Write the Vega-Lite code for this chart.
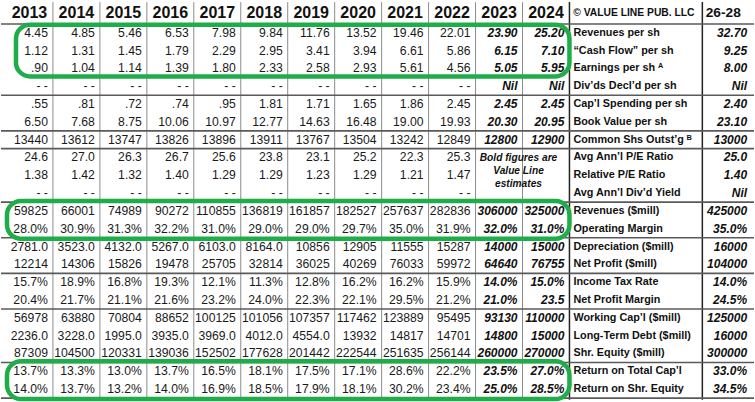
{
  "$schema": "https://vega.github.io/schema/vega-lite/v6.json",
  "width": 755,
  "height": 402,
  "padding": 0,
  "autosize": {"type": "fit", "contains": "padding"},
  "background": "white",
  "config": {"view": {"stroke": null}},
  "datasets": {
    "cols": [
      {"col": "2013", "left": 0, "right": 1, "title": "2013"},
      {"col": "2014", "left": 1, "right": 2, "title": "2014"},
      {"col": "2015", "left": 2, "right": 3, "title": "2015"},
      {"col": "2016", "left": 3, "right": 4, "title": "2016"},
      {"col": "2017", "left": 4, "right": 5, "title": "2017"},
      {"col": "2018", "left": 5, "right": 6, "title": "2018"},
      {"col": "2019", "left": 6, "right": 7, "title": "2019"},
      {"col": "2020", "left": 7, "right": 8, "title": "2020"},
      {"col": "2021", "left": 8, "right": 9, "title": "2021"},
      {"col": "2022", "left": 9, "right": 10, "title": "2022"},
      {"col": "2023", "left": 10, "right": 11, "title": "2023"},
      {"col": "2024", "left": 11, "right": 12, "title": "2024"},
      {"col": "label", "left": 12, "right": 14.83, "title": "© VALUE LINE PUB. LLC"},
      {"col": "proj", "left": 14.83, "right": 15.89, "title": "26-28"}
    ],
    "seps": [{"after": 0}, {"after": 4}, {"after": 6}, {"after": 7}, {"after": 10}, {"after": 12}, {"after": 14}, {"after": 16}, {"after": 19}, {"after": 21}],
    "hl": [
      {"first": 1, "last": 3, "from": 0, "to": 12},
      {"first": 11, "last": 12, "from": 0, "to": 12},
      {"first": 20, "last": 21, "from": 0, "to": 12}
    ],
    "note": [{"note": "Bold figures are\nValue Line\nestimates", "row": 9, "at": 11}],
    "table": [
      {"row": 1, "label": "Revenues per sh", "2013": "4.45", "2014": "4.85", "2015": "5.46", "2016": "6.53", "2017": "7.98", "2018": "9.84", "2019": "11.76", "2020": "13.52", "2021": "19.46", "2022": "22.01", "2023": "23.90", "2024": "25.20", "proj": "32.70"},
      {"row": 2, "label": "“Cash Flow” per sh", "2013": "1.12", "2014": "1.31", "2015": "1.45", "2016": "1.79", "2017": "2.29", "2018": "2.95", "2019": "3.41", "2020": "3.94", "2021": "6.61", "2022": "5.86", "2023": "6.15", "2024": "7.10", "proj": "9.25"},
      {"row": 3, "label": "Earnings per sh  ᴬ", "2013": ".90", "2014": "1.04", "2015": "1.14", "2016": "1.39", "2017": "1.80", "2018": "2.33", "2019": "2.58", "2020": "2.93", "2021": "5.61", "2022": "4.56", "2023": "5.05", "2024": "5.95", "proj": "8.00"},
      {"row": 4, "label": "Div’ds Decl’d per sh", "2013": "- -", "2014": "- -", "2015": "- -", "2016": "- -", "2017": "- -", "2018": "- -", "2019": "- -", "2020": "- -", "2021": "- -", "2022": "- -", "2023": "Nil", "2024": "Nil", "proj": "Nil"},
      {"row": 5, "label": "Cap’l Spending per sh", "2013": ".55", "2014": ".81", "2015": ".72", "2016": ".74", "2017": ".95", "2018": "1.81", "2019": "1.71", "2020": "1.65", "2021": "1.86", "2022": "2.45", "2023": "2.45", "2024": "2.45", "proj": "2.40"},
      {"row": 6, "label": "Book Value per sh", "2013": "6.50", "2014": "7.68", "2015": "8.75", "2016": "10.06", "2017": "10.97", "2018": "12.77", "2019": "14.63", "2020": "16.48", "2021": "19.00", "2022": "19.93", "2023": "20.30", "2024": "20.95", "proj": "23.10"},
      {"row": 7, "label": "Common Shs Outst’g  ᴮ", "2013": "13440", "2014": "13612", "2015": "13747", "2016": "13826", "2017": "13896", "2018": "13911", "2019": "13767", "2020": "13504", "2021": "13242", "2022": "12849", "2023": "12800", "2024": "12900", "proj": "13000"},
      {"row": 8, "label": "Avg Ann’l P/E Ratio", "2013": "24.6", "2014": "27.0", "2015": "26.3", "2016": "26.7", "2017": "25.6", "2018": "23.8", "2019": "23.1", "2020": "25.2", "2021": "22.3", "2022": "25.3", "proj": "25.0"},
      {"row": 9, "label": "Relative P/E Ratio", "2013": "1.38", "2014": "1.42", "2015": "1.32", "2016": "1.40", "2017": "1.29", "2018": "1.29", "2019": "1.23", "2020": "1.29", "2021": "1.21", "2022": "1.47", "proj": "1.40"},
      {"row": 10, "label": "Avg Ann’l Div’d Yield", "2013": "- -", "2014": "- -", "2015": "- -", "2016": "- -", "2017": "- -", "2018": "- -", "2019": "- -", "2020": "- -", "2021": "- -", "2022": "- -", "proj": "Nil"},
      {"row": 11, "label": "Revenues ($mill)", "2013": "59825", "2014": "66001", "2015": "74989", "2016": "90272", "2017": "110855", "2018": "136819", "2019": "161857", "2020": "182527", "2021": "257637", "2022": "282836", "2023": "306000", "2024": "325000", "proj": "425000"},
      {"row": 12, "label": "Operating Margin", "2013": "28.0%", "2014": "30.9%", "2015": "31.3%", "2016": "32.2%", "2017": "31.0%", "2018": "29.0%", "2019": "29.0%", "2020": "29.7%", "2021": "35.0%", "2022": "31.9%", "2023": "32.0%", "2024": "31.0%", "proj": "35.0%"},
      {"row": 13, "label": "Depreciation ($mill)", "2013": "2781.0", "2014": "3523.0", "2015": "4132.0", "2016": "5267.0", "2017": "6103.0", "2018": "8164.0", "2019": "10856", "2020": "12905", "2021": "11555", "2022": "15287", "2023": "14000", "2024": "15000", "proj": "16000"},
      {"row": 14, "label": "Net Profit ($mill)", "2013": "12214", "2014": "14306", "2015": "15826", "2016": "19478", "2017": "25705", "2018": "32814", "2019": "36025", "2020": "40269", "2021": "76033", "2022": "59972", "2023": "64640", "2024": "76755", "proj": "104000"},
      {"row": 15, "label": "Income Tax Rate", "2013": "15.7%", "2014": "18.9%", "2015": "16.8%", "2016": "19.3%", "2017": "12.1%", "2018": "11.3%", "2019": "12.8%", "2020": "16.2%", "2021": "16.2%", "2022": "15.9%", "2023": "14.0%", "2024": "15.0%", "proj": "14.0%"},
      {"row": 16, "label": "Net Profit Margin", "2013": "20.4%", "2014": "21.7%", "2015": "21.1%", "2016": "21.6%", "2017": "23.2%", "2018": "24.0%", "2019": "22.3%", "2020": "22.1%", "2021": "29.5%", "2022": "21.2%", "2023": "21.0%", "2024": "23.5", "proj": "24.5%"},
      {"row": 17, "label": "Working Cap’l ($mill)", "2013": "56978", "2014": "63880", "2015": "70804", "2016": "88652", "2017": "100125", "2018": "101056", "2019": "107357", "2020": "117462", "2021": "123889", "2022": "95495", "2023": "93130", "2024": "110000", "proj": "125000"},
      {"row": 18, "label": "Long-Term Debt ($mill)", "2013": "2236.0", "2014": "3228.0", "2015": "1995.0", "2016": "3935.0", "2017": "3969.0", "2018": "4012.0", "2019": "4554.0", "2020": "13932", "2021": "14817", "2022": "14701", "2023": "14800", "2024": "15000", "proj": "16000"},
      {"row": 19, "label": "Shr. Equity ($mill)", "2013": "87309", "2014": "104500", "2015": "120331", "2016": "139036", "2017": "152502", "2018": "177628", "2019": "201442", "2020": "222544", "2021": "251635", "2022": "256144", "2023": "260000", "2024": "270000", "proj": "300000"},
      {"row": 20, "label": "Return on Total Cap’l", "2013": "13.7%", "2014": "13.3%", "2015": "13.0%", "2016": "13.7%", "2017": "16.5%", "2018": "18.1%", "2019": "17.5%", "2020": "17.1%", "2021": "28.6%", "2022": "22.2%", "2023": "23.5%", "2024": "27.0%", "proj": "33.0%"},
      {"row": 21, "label": "Return on Shr. Equity", "2013": "14.0%", "2014": "13.7%", "2015": "13.2%", "2016": "14.0%", "2017": "16.9%", "2018": "18.5%", "2019": "17.9%", "2020": "18.1%", "2021": "30.2%", "2022": "23.4%", "2023": "25.0%", "2024": "28.5%", "proj": "34.5%"}
    ]
  },
  "layer": [
    {
      "data": {"name": "cols"},
      "transform": [{"filter": "datum.left > 0 && datum.left < 12"}],
      "mark": {"type": "rule", "color": "#8c8c8c", "strokeWidth": 1},
      "encoding": {
        "x": {"field": "left", "type": "quantitative", "scale": {"type": "linear", "domain": [-0.106, 15.93], "nice": false, "zero": false}, "axis": null},
        "y": {"datum": -0.72, "type": "quantitative", "scale": {"type": "linear", "domain": [-0.838, 21.557], "reverse": true, "nice": false, "zero": false}, "axis": null},
        "y2": {"datum": 21.6}
      }
    },
    {
      "data": {"name": "cols"},
      "transform": [{"filter": "datum.left >= 12"}],
      "mark": {"type": "rule", "color": "#222222", "strokeWidth": 1.5},
      "encoding": {
        "x": {"field": "left", "type": "quantitative", "scale": {"type": "linear", "domain": [-0.106, 15.93], "nice": false, "zero": false}, "axis": null},
        "y": {"datum": -0.72, "type": "quantitative", "scale": {"type": "linear", "domain": [-0.838, 21.557], "reverse": true, "nice": false, "zero": false}, "axis": null},
        "y2": {"datum": 21.6}
      }
    },
    {
      "data": {"name": "seps"},
      "mark": {"type": "rule", "color": "#5a5a5a", "strokeWidth": 1.6, "yOffset": 9},
      "encoding": {
        "y": {"field": "after", "type": "quantitative", "scale": {"type": "linear", "domain": [-0.838, 21.557], "reverse": true, "nice": false, "zero": false}, "axis": null},
        "x": {"datum": -0.106, "type": "quantitative", "scale": {"type": "linear", "domain": [-0.106, 15.93], "nice": false, "zero": false}, "axis": null},
        "x2": {"datum": 15.93}
      }
    },
    {
      "mark": {"type": "rule", "color": "#111111", "strokeWidth": 1},
      "encoding": {
        "y": {"datum": -0.72, "type": "quantitative", "scale": {"type": "linear", "domain": [-0.838, 21.557], "reverse": true, "nice": false, "zero": false}, "axis": null},
        "x": {"datum": -0.106, "type": "quantitative", "scale": {"type": "linear", "domain": [-0.106, 15.93], "nice": false, "zero": false}, "axis": null},
        "x2": {"datum": 15.93}
      }
    },
    {
      "mark": {"type": "rule", "color": "#111111", "strokeWidth": 3.5, "strokeDash": [2, 1.5]},
      "encoding": {
        "y": {"datum": -0.74, "type": "quantitative", "scale": {"type": "linear", "domain": [-0.838, 21.557], "reverse": true, "nice": false, "zero": false}, "axis": null},
        "x": {"datum": 0, "type": "quantitative", "scale": {"type": "linear", "domain": [-0.106, 15.93], "nice": false, "zero": false}, "axis": null},
        "x2": {"datum": 10.45}
      }
    },
    {
      "mark": {"type": "rule", "color": "#111111", "strokeWidth": 5},
      "encoding": {
        "y": {"datum": -0.76, "type": "quantitative", "scale": {"type": "linear", "domain": [-0.838, 21.557], "reverse": true, "nice": false, "zero": false}, "axis": null},
        "x": {"datum": 15.0, "type": "quantitative", "scale": {"type": "linear", "domain": [-0.106, 15.93], "nice": false, "zero": false}, "axis": null},
        "x2": {"datum": 15.93}
      }
    },
    {
      "mark": {"type": "rule", "color": "#111111", "strokeWidth": 3},
      "encoding": {
        "x": {"datum": 15.9, "type": "quantitative", "scale": {"type": "linear", "domain": [-0.106, 15.93], "nice": false, "zero": false}, "axis": null},
        "y": {"datum": -0.76, "type": "quantitative", "scale": {"type": "linear", "domain": [-0.838, 21.557], "reverse": true, "nice": false, "zero": false}, "axis": null},
        "y2": {"datum": 21.6}
      }
    },
    {
      "mark": {"type": "rule", "color": "#111111", "strokeWidth": 4},
      "encoding": {
        "x": {"datum": -0.06, "type": "quantitative", "scale": {"type": "linear", "domain": [-0.106, 15.93], "nice": false, "zero": false}, "axis": null},
        "y": {"datum": 3.5, "type": "quantitative", "scale": {"type": "linear", "domain": [-0.838, 21.557], "reverse": true, "nice": false, "zero": false}, "axis": null},
        "y2": {"datum": 21.6}
      }
    },
    {
      "data": {"name": "cols"},
      "transform": [{"filter": "datum.left < 12"}, {"calculate": "(datum.left + datum.right) / 2", "as": "mid"}],
      "mark": {"type": "text", "align": "center", "baseline": "middle", "dy": -2, "font": "Liberation Sans", "fontWeight": "bold", "fontSize": 16, "color": "#111111"},
      "encoding": {
        "x": {"field": "mid", "type": "quantitative", "scale": {"type": "linear", "domain": [-0.106, 15.93], "nice": false, "zero": false}, "axis": null},
        "y": {"datum": 0, "type": "quantitative", "scale": {"type": "linear", "domain": [-0.838, 21.557], "reverse": true, "nice": false, "zero": false}, "axis": null},
        "text": {"field": "title", "type": "nominal"}
      }
    },
    {
      "data": {"name": "cols"},
      "transform": [{"filter": "datum.col === 'label'"}, {"calculate": "(datum.left + datum.right) / 2", "as": "mid"}],
      "mark": {"type": "text", "align": "center", "baseline": "middle", "dy": -2, "dx": -2, "font": "Liberation Sans", "fontWeight": "bold", "fontSize": 10.3, "color": "#111111"},
      "encoding": {
        "x": {"field": "mid", "type": "quantitative", "scale": {"type": "linear", "domain": [-0.106, 15.93], "nice": false, "zero": false}, "axis": null},
        "y": {"datum": 0, "type": "quantitative", "scale": {"type": "linear", "domain": [-0.838, 21.557], "reverse": true, "nice": false, "zero": false}, "axis": null},
        "text": {"field": "title", "type": "nominal"}
      }
    },
    {
      "data": {"name": "cols"},
      "transform": [{"filter": "datum.col === 'proj'"}, {"calculate": "(datum.left + datum.right) / 2", "as": "mid"}],
      "mark": {"type": "text", "align": "center", "baseline": "middle", "dy": -2, "dx": -4, "font": "Liberation Sans", "fontWeight": "bold", "fontSize": 13.7, "color": "#111111"},
      "encoding": {
        "x": {"field": "mid", "type": "quantitative", "scale": {"type": "linear", "domain": [-0.106, 15.93], "nice": false, "zero": false}, "axis": null},
        "y": {"datum": 0, "type": "quantitative", "scale": {"type": "linear", "domain": [-0.838, 21.557], "reverse": true, "nice": false, "zero": false}, "axis": null},
        "text": {"field": "title", "type": "nominal"}
      }
    },
    {
      "data": {"name": "table"},
      "transform": [
        {"fold": ["2013", "2014", "2015", "2016", "2017", "2018", "2019", "2020", "2021", "2022"], "as": ["col", "val"]},
        {"filter": "isValid(datum.val)"},
        {"lookup": "col", "from": {"data": {"name": "cols"}, "key": "col", "fields": ["right"]}}
      ],
      "mark": {"type": "text", "align": "right", "baseline": "middle", "dx": -5, "font": "Liberation Sans", "fontSize": 12.2, "color": "#1a1a1a"},
      "encoding": {
        "x": {"field": "right", "type": "quantitative", "scale": {"type": "linear", "domain": [-0.106, 15.93], "nice": false, "zero": false}, "axis": null},
        "y": {"field": "row", "type": "quantitative", "scale": {"type": "linear", "domain": [-0.838, 21.557], "reverse": true, "nice": false, "zero": false}, "axis": null},
        "text": {"field": "val", "type": "nominal"}
      }
    },
    {
      "data": {"name": "table"},
      "transform": [
        {"fold": ["2023", "2024", "proj"], "as": ["col", "val"]},
        {"filter": "isValid(datum.val)"},
        {"lookup": "col", "from": {"data": {"name": "cols"}, "key": "col", "fields": ["right"]}}
      ],
      "mark": {"type": "text", "align": "right", "baseline": "middle", "dx": -5, "font": "Liberation Sans", "fontSize": 12, "fontWeight": "bold", "fontStyle": "italic", "color": "#111111"},
      "encoding": {
        "x": {"field": "right", "type": "quantitative", "scale": {"type": "linear", "domain": [-0.106, 15.93], "nice": false, "zero": false}, "axis": null},
        "y": {"field": "row", "type": "quantitative", "scale": {"type": "linear", "domain": [-0.838, 21.557], "reverse": true, "nice": false, "zero": false}, "axis": null},
        "text": {"field": "val", "type": "nominal"}
      }
    },
    {
      "data": {"name": "table"},
      "mark": {"type": "text", "align": "left", "baseline": "middle", "dx": 4, "font": "Liberation Sans", "fontSize": 10.8, "fontWeight": "bold", "color": "#111111"},
      "encoding": {
        "x": {"datum": 12, "type": "quantitative", "scale": {"type": "linear", "domain": [-0.106, 15.93], "nice": false, "zero": false}, "axis": null},
        "y": {"field": "row", "type": "quantitative", "scale": {"type": "linear", "domain": [-0.838, 21.557], "reverse": true, "nice": false, "zero": false}, "axis": null},
        "text": {"field": "label", "type": "nominal"}
      }
    },
    {
      "data": {"name": "note"},
      "mark": {"type": "text", "align": "center", "baseline": "middle", "dx": -4, "dy": -17, "lineBreak": "\n", "lineHeight": 13, "font": "Liberation Sans", "fontSize": 10.2, "fontWeight": "bold", "fontStyle": "italic", "color": "#111111"},
      "encoding": {
        "x": {"field": "at", "type": "quantitative", "scale": {"type": "linear", "domain": [-0.106, 15.93], "nice": false, "zero": false}, "axis": null},
        "y": {"field": "row", "type": "quantitative", "scale": {"type": "linear", "domain": [-0.838, 21.557], "reverse": true, "nice": false, "zero": false}, "axis": null},
        "text": {"field": "note", "type": "nominal"}
      }
    },
    {
      "data": {"name": "hl"},
      "transform": [{"filter": "datum.first === 1"}],
      "mark": {"type": "rect", "fill": "white", "fillOpacity": 0, "stroke": "#1fad4a", "strokeWidth": 4.5, "cornerRadius": 14, "xOffset": 10, "yOffset": -8, "y2Offset": 8},
      "encoding": {
        "x": {"field": "from", "type": "quantitative", "scale": {"type": "linear", "domain": [-0.106, 15.93], "nice": false, "zero": false}, "axis": null},
        "x2": {"field": "to"},
        "y": {"field": "first", "type": "quantitative", "scale": {"type": "linear", "domain": [-0.838, 21.557], "reverse": true, "nice": false, "zero": false}, "axis": null},
        "y2": {"field": "last"}
      }
    },
    {
      "data": {"name": "hl"},
      "transform": [{"filter": "datum.first !== 1"}],
      "mark": {"type": "rect", "fill": "white", "fillOpacity": 0, "stroke": "#1fad4a", "strokeWidth": 4.5, "cornerRadius": 14, "xOffset": 1, "yOffset": -10, "y2Offset": 10},
      "encoding": {
        "x": {"field": "from", "type": "quantitative", "scale": {"type": "linear", "domain": [-0.106, 15.93], "nice": false, "zero": false}, "axis": null},
        "x2": {"field": "to"},
        "y": {"field": "first", "type": "quantitative", "scale": {"type": "linear", "domain": [-0.838, 21.557], "reverse": true, "nice": false, "zero": false}, "axis": null},
        "y2": {"field": "last"}
      }
    }
  ]
}
